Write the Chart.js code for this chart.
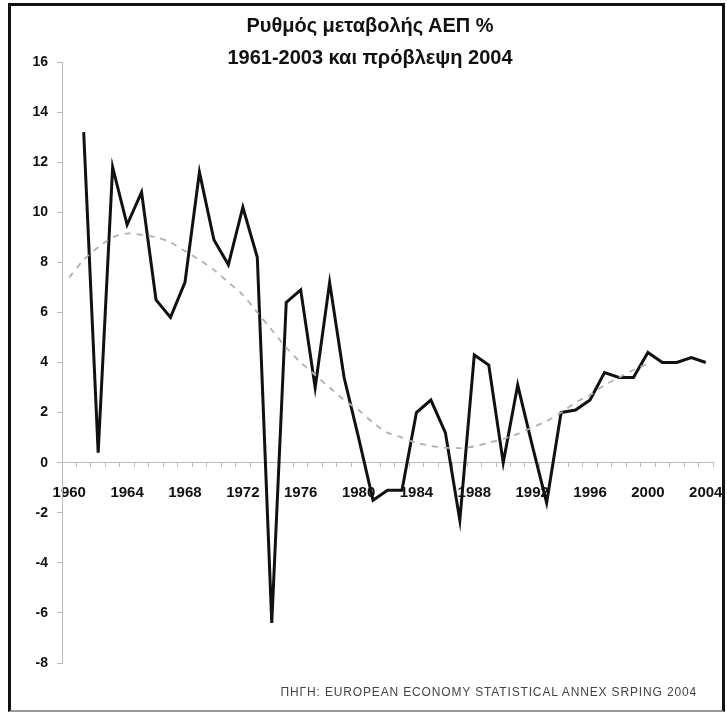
<!DOCTYPE html>
<html lang="el">
<head>
<meta charset="utf-8">
<title>Ρυθμός μεταβολής ΑΕΠ %</title>
<script src="https://cdn.jsdelivr.net/npm/chart.js@4.4.1/dist/chart.umd.min.js"></script>
<style>
  html, body { margin: 0; padding: 0; background: #fff; }
  #wrap { position: relative; width: 727px; height: 712px; overflow: hidden; }
  #grafima { position: absolute; left: 0; top: 0; }
  #plaisio {
    position: absolute; left: 8px; top: 3px; width: 711px; height: 704px;
    border: 3px solid #111; border-bottom: 2px solid #999; pointer-events: none;
  }
  .titlos {
    position: absolute; left: 0; width: 740px; text-align: center;
    font: bold 20px "Liberation Sans", Arial, sans-serif; color: #111;
  }
  #pigi {
    position: absolute; right: 30px; top: 685px;
    font: 12px "Liberation Sans", Arial, sans-serif; color: #444; letter-spacing: 0.85px;
  }
</style>
</head>
<body>
<div id="wrap">
  <canvas id="grafima" width="727" height="712"></canvas>
  <div class="titlos" style="top:14px">Ρυθμός μεταβολής ΑΕΠ %</div>
  <div class="titlos" style="top:46px">1961-2003 και πρόβλεψη 2004</div>
  <div id="pigi">ΠΗΓΗ: EUROPEAN ECONOMY STATISTICAL ANNEX SRPING 2004</div>
  <div id="plaisio"></div>
</div>
<script>
// κατηγορίες του άξονα x (έτη)
const xronia = ['1960','1961','1962','1963','1964','1965','1966','1967','1968','1969',
  '1970','1971','1972','1973','1974','1975','1976','1977','1978','1979',
  '1980','1981','1982','1983','1984','1985','1986','1987','1988','1989',
  '1990','1991','1992','1993','1994','1995','1996','1997','1998','1999',
  '2000','2001','2002','2003','2004'];

// ετικέτες που φαίνονται στον άξονα x
const etiketesX = ['1960','1964','1968','1972','1976','1980','1984','1988','1992','1996','2000','2004'];

// ρυθμός μεταβολής ΑΕΠ 1961-2004 (%)
const aep = [13.2, 0.4, 11.8, 9.5, 10.8, 6.5, 5.8, 7.2, 11.6, 8.9,
  7.9, 10.2, 8.2, -6.4, 6.4, 6.9, 3.0, 7.2, 3.4, 1.0,
  -1.5, -1.1, -1.1, 2.0, 2.5, 1.2, -2.3, 4.3, 3.9, 0.0,
  3.1, 0.7, -1.6, 2.0, 2.1, 2.5, 3.6, 3.4, 3.4, 4.4,
  4.0, 4.0, 4.2, 4.0];

// γραμμή τάσης 1960-2000 (διακεκομμένη)
const tasi = [7.4, 8.1, 8.6, 9.0, 9.15, 9.1, 9.0, 8.8, 8.45, 8.1,
  7.7, 7.2, 6.7, 6.0, 5.3, 4.6, 4.0, 3.5, 3.0, 2.5,
  2.1, 1.6, 1.2, 1.0, 0.8, 0.67, 0.6, 0.58, 0.65, 0.8,
  0.95, 1.15, 1.4, 1.66, 2.0, 2.4, 2.7, 3.1, 3.4, 3.7, 3.95];

const fontY = { family: '"Liberation Sans", Arial, sans-serif', size: 14, weight: 'bold' };
const fontX = { family: '"Liberation Sans", Arial, sans-serif', size: 15, weight: 'bold' };

new Chart(document.getElementById('grafima'), {
  type: 'line',
  data: {
    labels: xronia,
    datasets: [
      {
        label: 'Τάση',
        data: tasi,
        borderColor: '#b0b0b0',
        borderWidth: 1.8,
        borderDash: [6, 6],
        pointRadius: 0,
        tension: 0.3,
        fill: false
      },
      {
        label: 'ΑΕΠ %',
        data: [null].concat(aep),
        borderColor: '#111',
        borderWidth: 3,
        pointRadius: 0,
        tension: 0,
        fill: false
      }
    ]
  },
  options: {
    responsive: false,
    animation: false,
    layout: { padding: { left: 0, right: 14, top: 62, bottom: 49 } },
    plugins: {
      legend: { display: false },
      tooltip: { enabled: false },
      title: { display: false }
    },
    scales: {
      x: {
        type: 'category',
        position: { y: 0 },
        offset: true,
        grid: { offset: true, drawOnChartArea: false, tickLength: 4, color: '#bbb' },
        border: { color: '#bbb', width: 1 },
        ticks: {
          autoSkip: false, maxRotation: 0, padding: 17, color: '#111', font: fontX,
          callback: function (val, i) {
            return etiketesX.includes(xronia[i]) ? xronia[i] : '';
          }
        },
        afterFit: function (s) { s.height = 10; s.paddingLeft = 0; s.paddingRight = 0; }
      },
      y: {
        min: -8, max: 16,
        grid: { drawOnChartArea: false, tickLength: 5, color: '#bbb' },
        border: { color: '#bbb', width: 1 },
        ticks: { stepSize: 2, padding: 9, color: '#111', font: fontY },
        afterFit: function (s) { s.width = 62; }
      }
    }
  }
});
</script>
</body>
</html>
